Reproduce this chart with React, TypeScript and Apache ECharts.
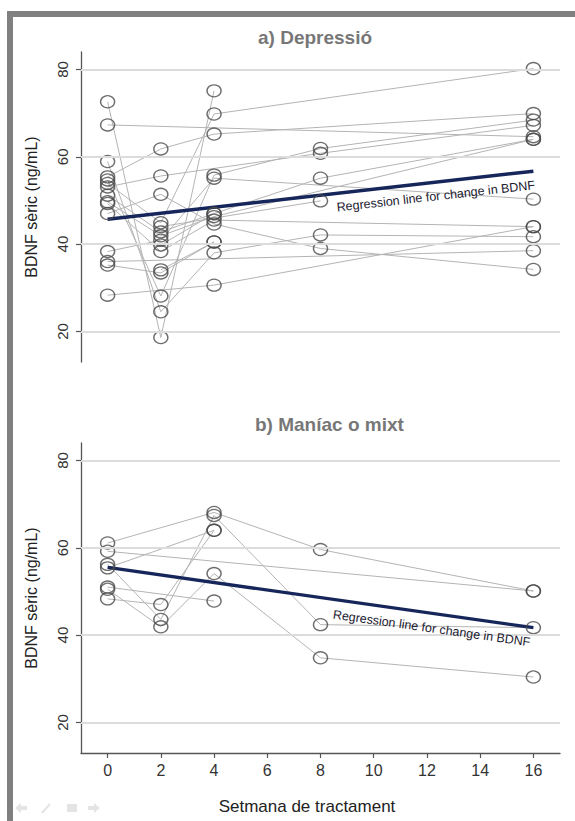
import React, { useEffect, useRef } from "react";
import * as echarts from "echarts";

// ---- data ----
const weekTicks = [0, 2, 4, 6, 8, 10, 12, 14, 16];
const yTicks = [20, 40, 60, 80];
const regWeeks = [0, 16];

// a) Depressió: each patient's [week, BDNF]
const depPatients: number[][][] = [
  [[0, 72.6], [2, 18.6], [4, 75.1]],
  [[0, 67.3], [16, 64.6]],
  [[0, 58.9], [2, 24.5], [4, 38.0], [8, 42.1], [16, 41.7]],
  [[0, 55.4], [2, 61.8], [4, 65.2], [16, 69.9]],
  [[0, 54.7], [2, 28.1], [4, 55.8], [8, 61.9], [16, 68.4]],
  [[0, 53.9], [2, 44.9], [4, 69.8], [16, 80.2]],
  [[0, 53.1], [2, 55.6], [8, 60.8], [16, 67.2]],
  [[0, 51.2], [2, 42.8], [4, 47.0], [8, 55.1], [16, 64.0]],
  [[0, 49.7], [2, 41.9], [4, 46.3], [16, 64.0]],
  [[0, 28.3], [4, 30.6], [16, 44.0]],
  [[0, 49.3], [2, 38.3], [4, 45.5], [16, 44.0]],
  [[0, 47.0], [2, 51.4], [4, 44.6], [8, 39.0], [16, 34.2]],
  [[0, 38.3], [2, 40.9], [4, 55.1], [16, 50.3]],
  [[0, 35.2], [2, 33.4], [4, 40.5]],
  [[0, 36.0], [16, 38.5]],
  [[2, 44.0], [8, 49.9]],
  [[2, 39.8], [4, 47.0]],
  [[2, 34.1], [4, 40.5]],
];
const depRegression = [45.7, 56.7];

// b) Maníac o mixt
const manPatients: number[][][] = [
  [[0, 61.1], [4, 68.1], [8, 59.6], [16, 50.1]],
  [[0, 59.2], [16, 50.1]],
  [[0, 56.2], [2, 43.6], [4, 67.4], [8, 42.4], [16, 41.7]],
  [[0, 55.4], [4, 64.0]],
  [[0, 51.0], [4, 47.8]],
  [[0, 50.5], [2, 41.9], [4, 54.1], [8, 34.8], [16, 30.4]],
  [[0, 48.3], [2, 47.0], [4, 64.0]],
];
const manRegression = [55.5, 41.7];

const titles = ["a) Depressió", "b) Maníac o mixt"];
const yName = "BDNF sèric (ng/mL)";
const xName = "Setmana de tractament";
const regText = "Regression line for change in BDNF";

const FONT = "Liberation Sans, Arial, sans-serif";
const LINE = "#b4b4b4";
const CIRCLE = "#4a4a4a";
const NAVY = "#17265a";
const AXIS = "#555555";

export default function App() {
  const ref = useRef<HTMLDivElement>(null);

  useEffect(() => {
    if (!ref.current) return;
    const chart = echarts.init(ref.current, null, { renderer: "svg" });

    const grids = [
      { left: 81, top: 52, width: 479, height: 310 },
      { left: 81, top: 443, width: 479, height: 310 },
    ];

    const xAxes = [0, 1].map((i) => ({
      type: "value",
      gridIndex: i,
      min: -1,
      max: 17,
      axisLine: { show: i === 1, onZero: false, lineStyle: { color: AXIS, width: 1.3 } },
      axisTick: {
        show: i === 1,
        customValues: weekTicks,
        length: 5,
        lineStyle: { color: AXIS, width: 1.2 },
      },
      axisLabel: {
        show: i === 1,
        customValues: weekTicks,
        fontSize: 16,
        color: "#333",
        fontFamily: FONT,
        margin: 9,
      },
      splitLine: { show: false },
    }));

    const yAxes = [0, 1].map((i) => ({
      type: "value",
      gridIndex: i,
      min: 13,
      max: 84,
      name: yName,
      nameLocation: "middle",
      nameRotate: 90,
      nameGap: 42,
      nameTextStyle: { fontSize: 16, color: "#222", fontFamily: FONT },
      axisLine: { show: true, onZero: false, lineStyle: { color: AXIS, width: 1.3 } },
      axisTick: {
        show: true,
        customValues: yTicks,
        length: 5,
        lineStyle: { color: AXIS, width: 1.2 },
      },
      axisLabel: {
        customValues: yTicks,
        rotate: 90,
        fontSize: 15,
        color: "#333",
        fontFamily: FONT,
        margin: 11,
      },
      splitLine: { show: false },
    }));

    const series: any[] = [];
    [depPatients, manPatients].forEach((patients, i) => {
      // grid lines
      series.push({
        type: "line",
        xAxisIndex: i,
        yAxisIndex: i,
        data: regWeeks.map((w) => [w, 50]),
        lineStyle: { opacity: 0 },
        symbol: "none",
        silent: true,
        z: 0,
        markLine: {
          silent: true,
          symbol: "none",
          label: { show: false },
          lineStyle: { color: "#dcdcdc", width: 2, type: "solid" },
          data: yTicks.map((v) => ({ yAxis: v })),
        },
      });
      patients.forEach((p) => {
        series.push({
          type: "line",
          xAxisIndex: i,
          yAxisIndex: i,
          data: p,
          symbol: "none",
          lineStyle: { color: LINE, width: 1 },
          silent: true,
          z: 2,
        });
      });
      const reg = i === 0 ? depRegression : manRegression;
      series.push({
        type: "line",
        xAxisIndex: i,
        yAxisIndex: i,
        data: regWeeks.map((w, k) => [w, reg[k]]),
        symbol: "none",
        lineStyle: { color: NAVY, width: 3.4 },
        silent: true,
        z: 3,
      });
      series.push({
        type: "scatter",
        xAxisIndex: i,
        yAxisIndex: i,
        data: patients.flat(),
        symbol: "circle",
        symbolSize: [14, 12],
        itemStyle: {
          color: "rgba(0,0,0,0)",
          borderColor: CIRCLE,
          borderWidth: 1.4,
        },
        silent: true,
        z: 4,
      });
    });

    chart.setOption({
      animation: false,
      grid: grids,
      xAxis: xAxes,
      yAxis: yAxes,
      series,
    });

    // annotation texts along the regression lines
    const annot = (i: number, reg: number[], startWeek: number, offset: number) => {
      const a = chart.convertToPixel({ xAxisIndex: i, yAxisIndex: i }, [regWeeks[0], reg[0]]) as number[];
      const b = chart.convertToPixel({ xAxisIndex: i, yAxisIndex: i }, [regWeeks[1], reg[1]]) as number[];
      const dx = b[0] - a[0];
      const dy = b[1] - a[1];
      const len = Math.sqrt(dx * dx + dy * dy);
      const ux = dx / len;
      const uy = dy / len;
      const t = (startWeek - regWeeks[0]) / (regWeeks[1] - regWeeks[0]);
      const px = a[0] + dx * t - uy * offset;
      const py = a[1] + dy * t + ux * offset;
      return {
        type: "text",
        x: px,
        y: py,
        rotation: -Math.atan2(dy, dx),
        z: 20,
        style: {
          text: regText,
          fill: "#1b2030",
          font: `12.5px ${FONT}`,
          align: "left",
          verticalAlign: "middle",
        },
      };
    };

    const graphics: any[] = [
      { type: "rect", shape: { x: 7, y: 11, width: 568, height: 6 }, style: { fill: "#808080" }, z: 1 },
      { type: "rect", shape: { x: 7, y: 11, width: 6, height: 810 }, style: { fill: "#808080" }, z: 1 },
      {
        type: "text",
        x: 258,
        y: 37,
        style: { text: titles[0], fill: "#777777", font: `bold 19px ${FONT}`, align: "left", verticalAlign: "middle" },
      },
      {
        type: "text",
        x: 255,
        y: 424,
        style: { text: titles[1], fill: "#777777", font: `bold 19px ${FONT}`, align: "left", verticalAlign: "middle" },
      },
      {
        type: "text",
        x: 307,
        y: 806,
        style: { text: xName, fill: "#222", font: `17px ${FONT}`, align: "center", verticalAlign: "middle" },
      },
      // faint navigation icons bottom-left
      {
        type: "polygon",
        shape: { points: [[15, 808], [21, 803], [21, 806], [27, 806], [27, 810], [21, 810], [21, 813]] },
        style: { fill: "#e4e4e4" },
      },
      { type: "line", shape: { x1: 42, y1: 813, x2: 50, y2: 804 }, style: { stroke: "#e4e4e4", lineWidth: 2 } },
      { type: "rect", shape: { x: 67, y: 804, width: 10, height: 8 }, style: { fill: "#e4e4e4" } },
      {
        type: "polygon",
        shape: { points: [[100, 808], [94, 803], [94, 806], [88, 806], [88, 810], [94, 810], [94, 813]] },
        style: { fill: "#e4e4e4" },
      },
      annot(0, depRegression, 8.55, 14),
      annot(1, manRegression, 8.55, 15),
    ];

    chart.setOption({ graphic: graphics });

    return () => chart.dispose();
  }, []);

  return (
    <div
      ref={ref}
      style={{ position: "absolute", left: 0, top: 0, width: 575, height: 821, background: "#fff" }}
    />
  );
}
